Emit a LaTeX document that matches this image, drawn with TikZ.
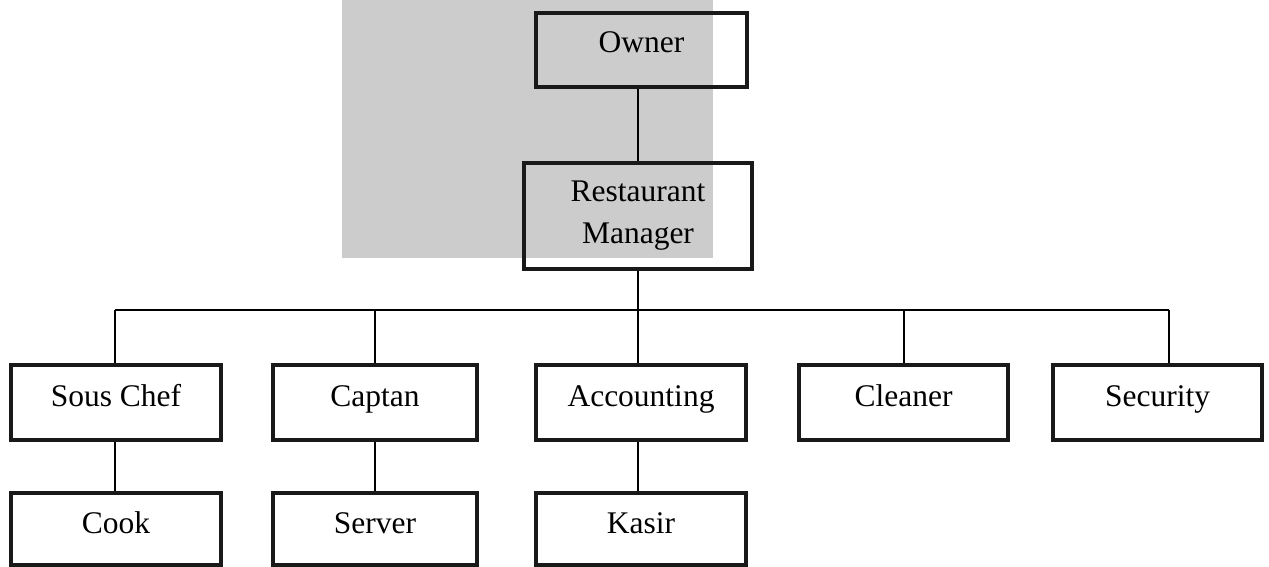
\documentclass[tikz,border=0pt]{standalone}
\usepackage{fontspec}
\setmainfont{Liberation Serif}
\usetikzlibrary{positioning}

\newlength{\du}
\setlength{\du}{0.5pt}

\definecolor{boxlinecolor}{rgb}{0.100000, 0.100000, 0.100000}
\definecolor{marklinecolor}{rgb}{0.800000, 0.800000, 0.800000}

\tikzset{
  jobbox/.style={draw=boxlinecolor, line width=4\du, rectangle, align=center,
    font=\fontsize{15.75}{21}\selectfont, minimum height=75\du,
    text height=.7em, text depth=.3em},
  orgline/.style={draw=black, line width=2\du}
}

\begin{document}
\begin{tikzpicture}[yscale=-1]
\useasboundingbox (0\du,0\du) rectangle (1269\du,567\du);
% grey block behind the top
\fill[marklinecolor] (342\du,0\du) rectangle (713\du,258\du);
% top
\node[jobbox, minimum width=211\du, minimum height=74\du, text depth=.45em] (owner) at (641.5\du,50\du) {Owner};
\node[jobbox, minimum width=228\du, minimum height=106\du, text height=, text depth=] (manager) at (638\du,216\du) {Restaurant\\Manager};
% first row
\node[jobbox, minimum width=210\du] (souschef) at (116\du,402.5\du) {Sous Chef};
\node[jobbox, minimum width=204\du] (captan) at (375\du,402.5\du) {Captan};
\node[jobbox, minimum width=210\du] (accounting) at (641\du,402.5\du) {Accounting};
\node[jobbox, minimum width=209\du] (cleaner) at (903.5\du,402.5\du) {Cleaner};
\node[jobbox, minimum width=209\du] (security) at (1157.5\du,402.5\du) {Security};
% second row
\node[jobbox, minimum width=210\du, minimum height=72\du] (cook) at (116\du,529\du) {Cook};
\node[jobbox, minimum width=204\du, minimum height=72\du] (server) at (375\du,529\du) {Server};
\node[jobbox, minimum width=210\du, minimum height=72\du] (kasir) at (641\du,529\du) {Kasir};
% lines
\coordinate (busleft) at (115\du,310\du);
\coordinate (busright) at (1169\du,310\du);
\draw[orgline] (manager.north) -- (manager.north |- owner.south);
\draw[orgline] (busleft) -- (busright);
\draw[orgline] (manager.south) -- (manager.south |- busleft);
\draw[orgline] (busleft) -- (busleft |- souschef.north);
\draw[orgline] (captan.north) -- (captan.north |- busleft);
\draw[orgline] (manager.south |- busleft) -- (manager.south |- accounting.north);
\draw[orgline] (cleaner.north) -- (cleaner.north |- busleft);
\draw[orgline] (busright) -- (busright |- security.north);
\draw[orgline] (busleft |- souschef.south) -- (busleft |- cook.north);
\draw[orgline] (captan.south) -- (server.north);
\draw[orgline] (manager.south |- accounting.south) -- (manager.south |- kasir.north);
\end{tikzpicture}
\end{document}
